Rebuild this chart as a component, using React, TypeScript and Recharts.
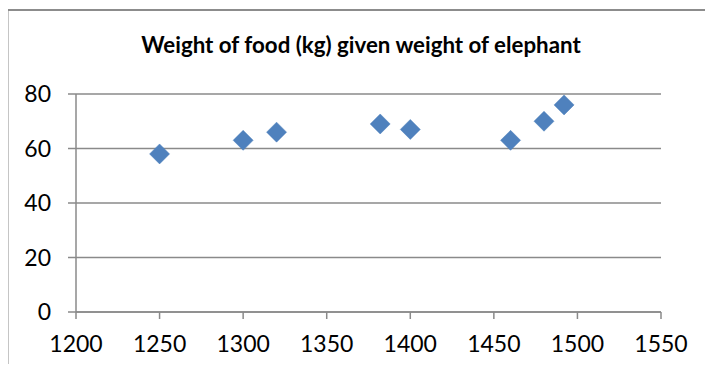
import React from "react";
import {
  ScatterChart,
  Scatter,
  XAxis,
  YAxis,
  CartesianGrid,
} from "recharts";

const elephantWeights = [1250, 1300, 1320, 1382, 1400, 1460, 1480, 1492];
const foodWeights = [58, 63, 66, 69, 67, 63, 70, 76];
const xTicks = [1200, 1250, 1300, 1350, 1400, 1450, 1500, 1550];
const yTicks = [0, 20, 40, 60, 80];
const title = "Weight of food (kg) given weight of elephant";

const data = elephantWeights.map((x, i) => ({ x, y: foodWeights[i] }));

const FONT = "Lato, 'Open Sans', sans-serif";
const GRID = "#8a8a8a";
const MARKER = "#4F81BD";

const Diamond = (props: any) => {
  const { cx, cy } = props;
  if (cx == null || cy == null) return null;
  const r = 10;
  return (
    <path
      d={`M${cx},${cy - r} L${cx + r},${cy} L${cx},${cy + r} L${cx - r},${cy} Z`}
      fill={MARKER}
      stroke="#4A7EBB"
      strokeWidth={0.5}
    />
  );
};

export default function App() {
  return (
    <div
      style={{
        position: "relative",
        width: 713,
        height: 372,
        margin: -8,
        overflow: "hidden",
        background: "#fff",
      }}
    >
      <div style={{ position: "absolute", left: 0, top: 0 }}>
        <ScatterChart
          width={713}
          height={372}
          margin={{ top: 94, right: 52, bottom: 20, left: 26 }}
        >
          <CartesianGrid vertical={false} stroke={GRID} strokeWidth={1.5} />
          <XAxis
            type="number"
            dataKey="x"
            domain={[1200, 1550]}
            ticks={xTicks}
            interval={0}
            height={40}
            tickSize={7}
            tickMargin={17}
            axisLine={{ stroke: GRID, strokeWidth: 1.5 }}
            tickLine={{ stroke: GRID, strokeWidth: 1.5 }}
            tick={{ fill: "#000", fontSize: 23, fontFamily: FONT }}
          />
          <YAxis
            type="number"
            dataKey="y"
            domain={[0, 80]}
            ticks={yTicks}
            interval={0}
            width={50}
            tickSize={8}
            tickMargin={17}
            axisLine={{ stroke: GRID, strokeWidth: 1.5 }}
            tickLine={{ stroke: GRID, strokeWidth: 1.5 }}
            tick={{ fill: "#000", fontSize: 23, fontFamily: FONT }}
          />
          <Scatter data={data} shape={<Diamond />} isAnimationActive={false} />
        </ScatterChart>
      </div>
      <svg
        width={713}
        height={372}
        style={{ position: "absolute", left: 0, top: 0, pointerEvents: "none", zIndex: 2 }}
      >
        <path d="M7.5,372 L7.5,10 L713,10" fill="none" stroke="#8c8c8c" strokeWidth={2} />
        <text
          x={361}
          y={53}
          textAnchor="middle"
          fontFamily={FONT}
          fontWeight={700}
          fontSize={22.3}
          fill="#000"
        >
          {title}
        </text>
      </svg>
    </div>
  );
}
